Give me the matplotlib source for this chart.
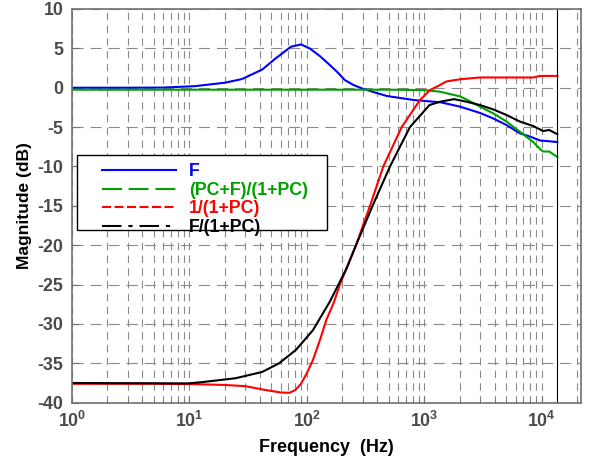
import matplotlib
matplotlib.use("Agg")
import matplotlib.pyplot as plt
from matplotlib.lines import Line2D
from matplotlib.patches import Rectangle
from matplotlib.ticker import LogLocator, FixedLocator, NullFormatter

# Datos (frecuencia en Hz, magnitud en dB)
f_F = [1, 3, 6, 11.2, 20.2, 28.1, 41.8, 54.5, 73.4, 89.5, 106, 130, 157, 185, 211,
       250, 294, 380, 482, 818, 1390, 2020, 2985, 3870, 5030, 6540, 7950, 9700, 11600, 13600]
mag_F = [0, 0, 0.02, 0.2, 0.64, 1.1, 2.3, 3.73, 5.2, 5.5, 5.0, 4.0, 2.9, 1.9, 0.98,
         0.35, -0.08, -0.6, -1.05, -1.56, -1.86, -2.4, -3.2, -3.9, -4.74, -5.8, -6.2, -6.7, -6.8, -6.9]

f_G = [1, 100, 500, 1000, 1362, 1770, 2020, 2300, 2985, 3870, 5030, 6540, 8490, 9700, 10300, 11600, 13600]
mag_G = [-0.25, -0.25, -0.25, -0.3, -0.5, -0.9, -1.1, -1.5, -2.4, -3.25, -4.3, -5.6, -6.9, -7.8, -8.1, -8.1, -8.8]

f_S = [1, 5, 11.2, 20, 30, 45, 60, 71, 80, 89.5, 100, 113, 130, 147, 170, 192, 204,
       263, 346, 449, 644, 921, 1120, 1362, 1550, 2020, 2985, 5000, 8490, 9700, 13600]
mag_S = [-37.6, -37.6, -37.65, -37.75, -37.9, -38.4, -38.7, -38.75, -38.4, -37.6, -36.3, -34.6, -32.0, -29.5, -27.3, -25.0, -24.0,
         -20, -15, -10, -5, -1.56, -0.3, 0.34, 0.8, 1.07, 1.3, 1.3, 1.3, 1.5, 1.5]

f_T = [1, 9.8, 12.7, 24.7, 41.8, 58.2, 81, 113, 157, 218, 263, 364, 512, 757, 1110,
       1362, 1800, 2300, 2985, 3870, 5030, 6540, 8490, 10300, 11600, 13600]
mag_T = [-37.5, -37.55, -37.4, -36.9, -36.1, -35.0, -33.3, -30.8, -27.2, -23.0, -20, -15, -10, -5, -2.2,
         -1.78, -1.45, -1.78, -2.2, -2.75, -3.47, -4.3, -4.87, -5.5, -5.37, -5.9]

labels = ["F", "(PC+F)/(1+PC)", "1/(1+PC)", "F/(1+PC)"]
f_end = 13600  # línea vertical al final de los datos

plt.rcParams['font.family'] = ['Liberation Sans', 'DejaVu Sans']
plt.rcParams['font.weight'] = 'bold'
plt.rcParams['axes.unicode_minus'] = False
plt.rcParams['lines.scale_dashes'] = False
plt.rcParams['mathtext.fontset'] = 'custom'
plt.rcParams['mathtext.rm'] = 'Liberation Sans:bold'
plt.rcParams['mathtext.bf'] = 'Liberation Sans:bold'

W, H = 589, 461
fig = plt.figure(figsize=(W / 100, H / 100), dpi=100)
ax = fig.add_axes([0.1217, 0.1265, 0.8642, 0.854])

ax.plot(f_F, mag_F, color='#0000ff', lw=1.5)
ax.plot(f_G, mag_G, color='#00a000', lw=1.5)
ax.plot(f_S, mag_S, color='#ff0000', lw=1.5)
ax.plot(f_T, mag_T, color='black', lw=1.5)
ax.axvline(f_end, color='black', lw=0.8)

ax.set_xscale('log')
ax.set_xlim(1, 21500)
ax.set_ylim(-40, 10)
ax.set_yticks(range(-40, 11, 5))
ax.xaxis.set_major_locator(FixedLocator([1, 10, 100, 1000, 10000]))
ax.xaxis.set_minor_locator(LogLocator(base=10, subs=range(2, 10), numticks=20))
ax.xaxis.set_minor_formatter(NullFormatter())

# Rejilla a trazos (estilo MATLAB)
ax.xaxis.grid(True, which='both', color='#8a8a8a', lw=0.8, linestyle=(0, (5.3, 3.9)))
ax.yaxis.grid(True, which='major', color='#8a8a8a', lw=0.8, linestyle=(0, (8, 5)))
ax.set_axisbelow(True)

for spine in ax.spines.values():
    spine.set_color('#707070')
    spine.set_linewidth(1.2)

ax.tick_params(which='both', direction='in', colors='#707070', labelcolor='#4a4a4a',
               labelsize=12.8)
ax.tick_params(which='major', length=5, pad=6)
ax.tick_params(which='minor', length=3)

ax.set_xlabel("Frequency  (Hz)", fontsize=13, fontweight='bold', labelpad=6)
ax.set_ylabel("Magnitude (dB)", fontsize=12.5, fontweight='bold', labelpad=4)

# Marco de la leyenda (en píxeles de la figura)
box = Rectangle((76.7 / W, 1 - 230 / H), 250 / W, 75 / H, transform=fig.transFigure,
                facecolor='white', edgecolor='black', lw=1.0, zorder=4.5, clip_on=False)
ax.add_patch(box)

# Leyenda con los estilos de línea originales
handles = [
    Line2D([], [], color='#0000ff', lw=1.5),
    Line2D([], [], color='#00a000', lw=1.5, linestyle=(0, (14.4, 4.8))),
    Line2D([], [], color='#ff0000', lw=1.5, linestyle=(0, (6.5, 2.5))),
    Line2D([], [], color='black', lw=1.5, linestyle=(0, (14, 5, 3, 5))),
]
leg = ax.legend(handles, labels, loc='upper left', bbox_to_anchor=(101.7 / W, 1 - 163.5 / H),
                bbox_transform=fig.transFigure, borderaxespad=0, frameon=False,
                prop={'weight': 'bold', 'size': 12.8},
                handlelength=4.2, handletextpad=0.7, labelspacing=0.08, borderpad=0)
for txt, h in zip(leg.get_texts(), handles):
    txt.set_color(h.get_color())

fig.savefig("out.png", dpi=100)
